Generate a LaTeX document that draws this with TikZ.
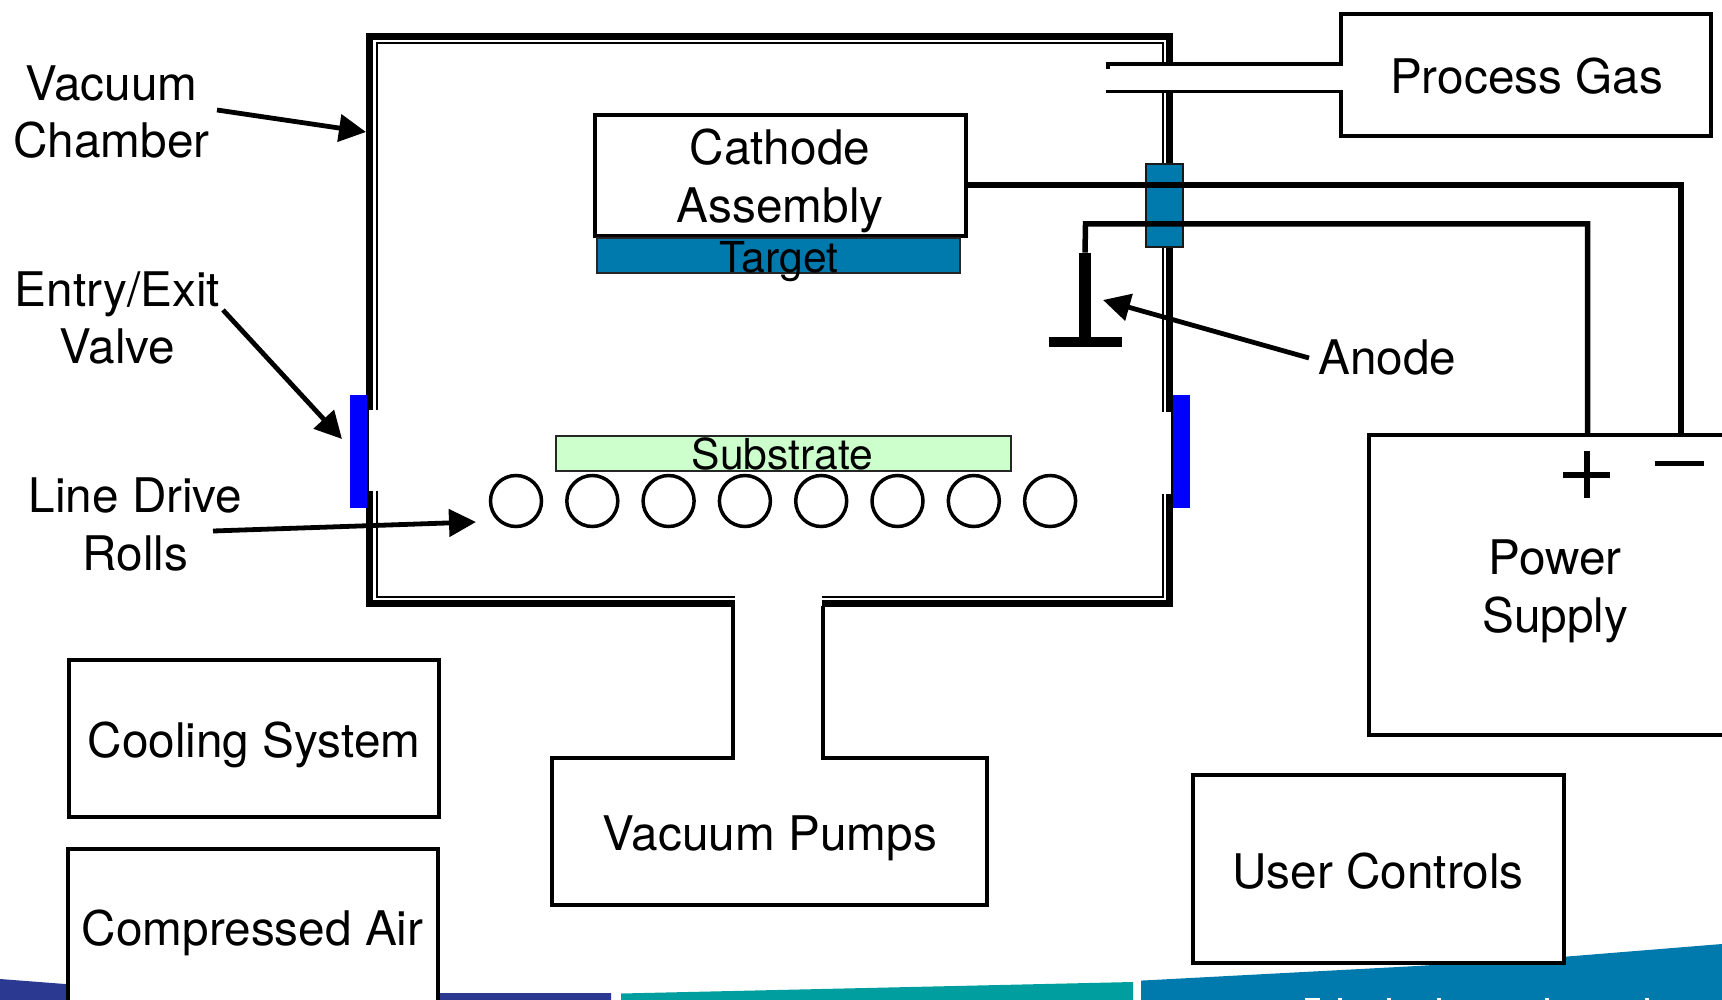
\documentclass[tikz,border=0pt]{standalone}
\usepackage{fontspec}
\setmainfont{TeX Gyre Heros}
\usetikzlibrary{arrows.meta,calc}
\definecolor{tealblue}{HTML}{0079AC}
\definecolor{navyband}{HTML}{2B3990}
\definecolor{tealband}{HTML}{009E9E}
\definecolor{valveblue}{HTML}{0000FF}
\definecolor{subgreen}{HTML}{CCFFCC}
\tikzset{
  lbl/.style={inner sep=0pt,outer sep=0pt,anchor=base,align=center,font=\fontsize{23.85}{28.75}\selectfont},
  lblsmall/.style={inner sep=0pt,outer sep=0pt,anchor=base,align=center,font=\fontsize{21.3}{26}\selectfont},
  boxshape/.style={draw=black,line width=2pt,fill=white},
  wire/.style={draw=black,line width=2.75pt,line join=miter},
  wallthick/.style={draw=black,line width=3.6pt,line cap=butt},
  wallthin/.style={draw=black,line width=0.95pt,line cap=butt},
  pointer/.style={draw=black,line width=2.4pt,-{Triangle[length=13.5pt,width=13.5pt]}},
  roll/.style={circle,draw=black,line width=1.75pt,minimum size=25.5pt,inner sep=0pt,fill=white},
  thinbox/.style={draw=black!85,line width=1pt},
  valve/.style={fill=valveblue,draw=none},
  solid/.style={fill=black,draw=none},
}
\begin{document}
\begin{tikzpicture}[x=0.5pt,y=-0.5pt]
\useasboundingbox (0,0) rectangle (1722,1000);
% footer bands
\fill[navyband] (0,979) -- (65,984) -- (440,993) -- (611,993) -- (611,1000) -- (0,1000) -- cycle;
\fill[tealband] (621,993.5) -- (1133,982) -- (1133,1000) -- (621,1000) -- cycle;
\fill[tealblue] (1141,980.6) -- (1417,966) -- (1565,956.7) -- (1722,944) -- (1722,1000) -- (1141,1000) -- cycle;
\fill[white] (1305,997.5) rectangle (1320,1000);
\foreach \x in {1338,1387,1437,1545,1645} {\fill[white] (\x,997.5) rectangle (\x+4,1000);}
% chamber walls
\draw[wallthick] (735,603.5) -- (369.8,603.5) -- (369.8,36.5) -- (1169.5,36.5) -- (1169.5,603.5) -- (822,603.5);
\draw[wallthin] (735,596.8) -- (377.3,596.8) -- (377.3,43) -- (1162.7,43) -- (1162.7,596.8) -- (822,596.8);
% gas port gap
\fill[white] (1155,66) rectangle (1180,90);
% valve gaps
\fill[white] (369,410) rectangle (380,491);
\fill[white] (1160,412) rectangle (1171,494);
% valves
\fill[valve] (350,395) rectangle (366.5,508);
\fill[valve] (1173,395) rectangle (1190,508);
% duct
\draw[draw=black,line width=2pt] (733,606) -- (733,757);
\draw[draw=black,line width=2pt] (823,606) -- (823,757);
% boxes
\node[boxshape,minimum width=185.5pt,minimum height=60.5pt,inner sep=0pt] (cathode) at (780,175.5) {};
\node[thinbox,fill=tealblue,inner sep=0pt,minimum width=181.5pt,minimum height=17.5pt] (target) at (778.5,255.5) {};
\node[thinbox,fill=subgreen,inner sep=0pt,minimum width=227.5pt,minimum height=17.25pt] (substrate) at (783.5,453.25) {};
\node[boxshape,minimum width=185pt,minimum height=61pt,inner sep=0pt] (process) at (1526,75) {};
\node[boxshape,minimum width=185pt,minimum height=78.5pt,inner sep=0pt] (cooling) at (254,738.5) {};
\node[boxshape,minimum width=184.75pt,minimum height=80pt,inner sep=0pt] (compressed) at (252.75,929) {};
\node[boxshape,minimum width=217.5pt,minimum height=73.5pt,inner sep=0pt] (pumps) at (769.5,831) {};
\node[boxshape,minimum width=185.5pt,minimum height=94pt,inner sep=0pt] (controls) at (1378.5,869) {};
\node[boxshape,minimum width=300.5pt,minimum height=150pt,inner sep=0pt] (supply) at (1669,585) {};
% openings in process gas and pumps boxes
\fill[white] (1336,66.5) rectangle (1343,90);
\fill[white] (735,752) rectangle (821,761);
\coordinate (gasTopIn) at (1106,64);
\coordinate (gasBotIn) at (1106,91.5);
\coordinate (gasTopOut) at (1341,64);
\coordinate (gasBotOut) at (1341,91.5);
\draw[draw=black,line width=2.2pt] (gasTopIn) -- (gasTopOut);
\draw[draw=black,line width=1.7pt] (gasBotIn) -- (gasBotOut);
\fill[black] (1106,62) rectangle (1110,69);
% feedthrough
\node[draw=black!90,line width=1pt,fill=tealblue,inner sep=0pt,minimum width=18.5pt,minimum height=41.5pt] (feed) at (1164.5,205.5) {};
% anode
\node[solid,inner sep=0pt,minimum width=6pt,minimum height=42pt] (anodestem) at (1085,295) {};
\node[solid,inner sep=0pt,minimum width=36.5pt,minimum height=5pt] (anodebar) at (1085.5,342) {};
% wires
\coordinate (plus) at (1587.5,435);
\coordinate (minus) at (1681,435);
\draw[wire] (cathode.east |- 0,185) -- (1681,185) -- (minus);
\draw[wire] (anodestem.north) -- (1085.5,224) -- (1587.5,224) -- (plus);
% supply polarity
\fill[black] (1563,471.5) rectangle (1610,478);
\fill[black] (1583.5,451) rectangle (1590,498);
\fill[black] (1655,461) rectangle (1704,466);
% rolls
\foreach \i [count=\n from 0] in {1,...,8} {
  \node[roll] (roll\i) at ({516+76.3*\n},501) {};
}
% labels (base anchor of a two-line node is its last line)
\node[lbl] (tvac) at (111.5,158) {Vacuum\\Chamber};
\node[lbl] (tent) at (117.5,363.5) {Entry/Exit\\Valve};
\node[lbl] (tline) at (135.5,570) {Line Drive\\Rolls};
\node[lbl] at (780,222.5) {Cathode\\Assembly};
\node[lblsmall] at (779,272) {Target};
\node[lblsmall] at (782.5,469) {Substrate};
\node[lbl] at (1526.5,94) {Process Gas};
\node[lbl] (tan) at (1387.5,374) {Anode};
\node[lbl] at (1555,632) {Power\\Supply};
\node[lbl] at (254,757) {Cooling System};
\node[lbl] at (252.5,945) {Compressed Air};
\node[lbl] at (770,850) {Vacuum Pumps};
\node[lbl] at (1378,888) {User Controls};
% pointers
\coordinate (pvacS) at (217,110); \coordinate (pvacE) at (366,132);
\coordinate (pentS) at (223,310); \coordinate (pentE) at (342,439);
\coordinate (plinS) at (213,531); \coordinate (plinE) at (476,522);
\coordinate (panS) at (1309,358); \coordinate (panE) at (1103,300);
\draw[pointer] (pvacS) -- (pvacE);
\draw[pointer] (pentS) -- (pentE);
\draw[pointer] (plinS) -- (plinE);
\draw[pointer] (panS) -- (panE);
\end{tikzpicture}
\end{document}
